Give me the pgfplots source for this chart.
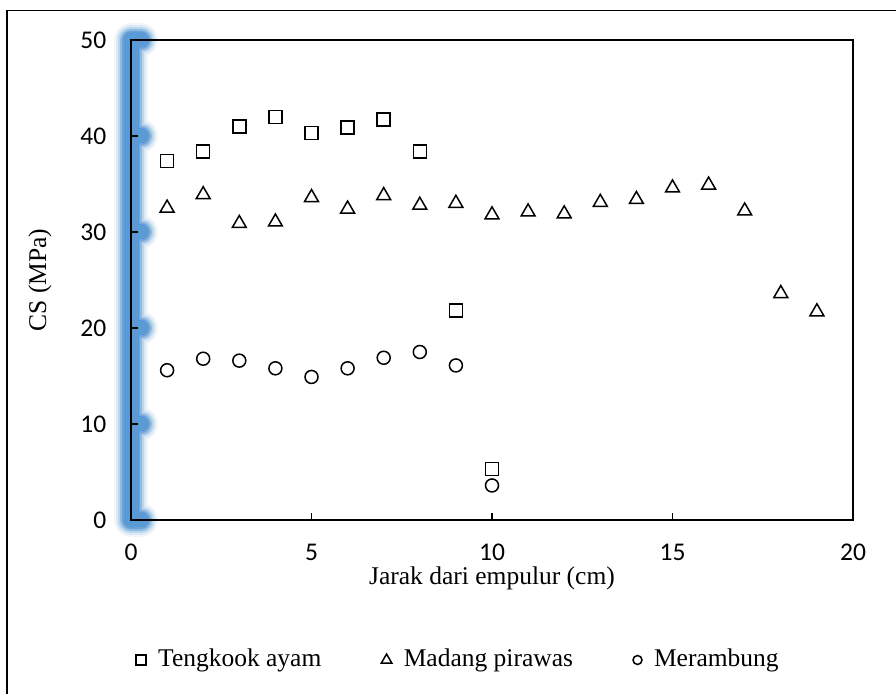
\documentclass[border=0pt]{standalone}
\usepackage{fontspec}
\setmainfont{Liberation Serif}
\newfontfamily\ticksfont{Carlito}
\usepackage{pgfplots}
\pgfplotsset{compat=1.18}
\definecolor{glow}{RGB}{91,155,213}
\begin{document}
\fontsize{25.5}{30}\selectfont
\begin{tikzpicture}
\clip (0pt,0pt) rectangle (896pt,693pt);
\fill[white] (0pt,0pt) rectangle (896pt,693pt);
\draw[line width=1.5pt] (7pt,682.5pt) rectangle (920pt,-30pt);
% glow along the y axis
\foreach \w/\o in {34/0.08, 30/0.15, 26/0.25, 22/0.45, 18/0.75, 15/1} {
  \draw[glow, line width=\w pt, line cap=round, opacity=\o]
    (131pt,173pt) -- (131pt,653pt)
    \foreach \k in {0,...,5} { (131pt,173pt+96*\k pt) -- (141pt,173pt+96*\k pt) };
}
\begin{axis}[
  at={(131pt,173pt)}, anchor=south west,
  scale only axis, width=722pt, height=480pt,
  xmin=0, xmax=20, ymin=0, ymax=50,
  xtick={0,5,10,15,20}, ytick={0,10,20,30,40,50},
  tick align=inside, tick pos=left, major tick length=7pt,
  axis line style={line width=1.5pt},
  tick style={line width=1.5pt, black},
  /pgf/number format/assume math mode=true,
  ticklabel style={font=\ticksfont\fontsize{25.5}{30}\selectfont},
  yticklabel style={xshift=-16pt},
  xticklabel style={yshift=-15pt},
  xlabel={Jarak dari empulur (cm)},
  ylabel={CS (MPa)},
  label style={font=\fontsize{25.5}{30}\selectfont},
  xlabel style={at={(axis description cs:0.5,-0.121)}, anchor=center},
  ylabel style={at={(axis description cs:-0.126,0.5)}, anchor=center},
  legend columns=3,
  legend style={draw=none, fill=none, inner sep=0pt,
    at={(axis description cs:0.0069,-0.2917)}, anchor=west,
    nodes={inner sep=0pt},
    font=\fontsize{25.5}{30}\selectfont,
    /tikz/every odd column/.append style={column sep=12pt},
    /tikz/every even column/.append style={column sep=60pt}},
  legend cell align=left,
  legend image code/.code={\draw[#1] plot coordinates {(6pt,0pt)};},
]
\addlegendimage{only marks, mark=square, mark size=5pt, black, line width=1.5pt}
\addlegendentry{Tengkook ayam}
\addlegendimage{only marks, mark=triangle, mark size=6pt, black, line width=1.5pt}
\addlegendentry{Madang pirawas}
\addlegendimage{only marks, mark=o, mark size=4.5pt, black, line width=1.5pt}
\addlegendentry{Merambung}

\addplot[forget plot, only marks, mark=square, mark size=6.5pt, black, line width=1.5pt]
coordinates {(1,37.4)(2,38.4)(3,41.0)(4,42.0)(5,40.3)(6,40.9)(7,41.7)(8,38.4)(9,21.8)(10,5.3)};
\addplot[forget plot, only marks, mark=triangle, mark size=8pt, black, line width=1.5pt,
  mark options={yshift=-2pt}]
coordinates {(1,32.7)(2,34.1)(3,31.1)(4,31.25)(5,33.8)(6,32.6)(7,34.0)(8,33.0)(9,33.2)(10,32.0)
(11,32.3)(12,32.1)(13,33.3)(14,33.6)(15,34.8)(16,35.1)(17,32.4)(18,23.8)(19,21.9)};
\addplot[forget plot, only marks, mark=o, mark size=6.5pt, black, line width=1.5pt]
coordinates {(1,15.6)(2,16.8)(3,16.6)(4,15.8)(5,14.9)(6,15.8)(7,16.9)(8,17.5)(9,16.1)(10,3.6)};
\end{axis}
\end{tikzpicture}
\end{document}
